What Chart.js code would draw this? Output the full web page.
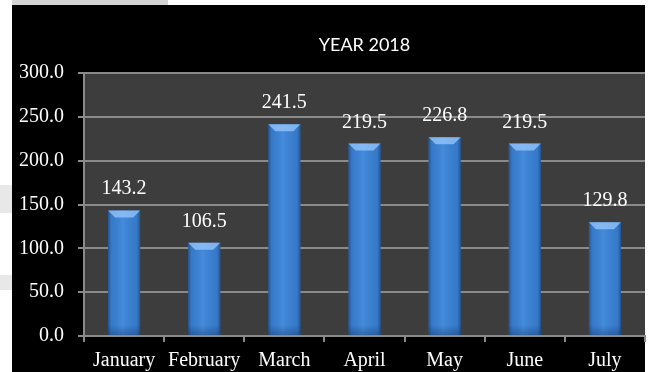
<!DOCTYPE html>
<html>
<head>
<meta charset="utf-8">
<script src="https://cdn.jsdelivr.net/npm/chart.js@4/dist/chart.umd.min.js"></script>
<style>
  html, body { margin: 0; padding: 0; background: #fff; overflow: hidden; }
  #wrap { position: relative; width: 649px; height: 372px; overflow: hidden; }
</style>
</head>
<body>
<div id="wrap"><canvas id="salesChart" width="649" height="372"></canvas></div>
<script>
const months = ['January', 'February', 'March', 'April', 'May', 'June', 'July'];
const values = [143.2, 106.5, 241.5, 219.5, 226.8, 219.5, 129.8];
const chartTitle = 'YEAR 2018';
const yMin = 0;
const yMax = 300;
const yStep = 50;

const gridGray = '#8a8a8a';
const serif = '"Liberation Serif", "Times New Roman", serif';

// page frame, black panel and plot background
const backdrop = {
    id: 'backdrop',
    beforeDraw(chart) {
        const ctx = chart.ctx;
        const area = chart.chartArea;
        ctx.save();
        ctx.fillStyle = '#ffffff';
        ctx.fillRect(0, 0, chart.width, chart.height);
        ctx.fillStyle = '#e8e8e8';
        ctx.fillRect(0, 185, 12, 28);
        ctx.fillRect(0, 275, 12, 15);
        ctx.fillStyle = '#d4d4d4';
        ctx.fillRect(12, 0, 156, 5);
        ctx.fillStyle = '#000000';
        ctx.fillRect(12, 5, area.right - 12, chart.height - 5);
        ctx.fillStyle = '#3d3d3d';
        ctx.fillRect(area.left, area.top, area.right - area.left, area.bottom - area.top);

        // title sits centred over the plot, not the whole canvas
        ctx.fillStyle = '#ffffff';
        ctx.font = '18px Lato, "Open Sans", sans-serif';
        ctx.textAlign = 'center';
        ctx.textBaseline = 'middle';
        ctx.fillText(chartTitle, (area.left + area.right) / 2, 45);
        ctx.restore();
    }
};

// cylinder-like shading, bevelled top and value labels
const barDecor = {
    id: 'barDecor',
    afterDatasetsDraw(chart) {
        const ctx = chart.ctx;
        const meta = chart.getDatasetMeta(0);
        ctx.save();
        meta.data.forEach((bar, i) => {
            const { x, y, base, width } = bar.getProps(['x', 'y', 'base', 'width'], true);
            const left = x - width / 2;
            const right = x + width / 2;

            const shade = ctx.createLinearGradient(left, 0, right, 0);
            shade.addColorStop(0, 'rgba(15, 40, 80, 0.5)');
            shade.addColorStop(0.1, 'rgba(15, 40, 80, 0.1)');
            shade.addColorStop(0.45, 'rgba(130, 190, 255, 0.15)');
            shade.addColorStop(0.9, 'rgba(15, 40, 80, 0.1)');
            shade.addColorStop(1, 'rgba(15, 40, 80, 0.5)');
            ctx.fillStyle = shade;
            ctx.fillRect(left, y, width, base - y);

            const foot = ctx.createLinearGradient(0, base - 10, 0, base);
            foot.addColorStop(0, 'rgba(10, 30, 60, 0)');
            foot.addColorStop(1, 'rgba(10, 30, 60, 0.3)');
            ctx.fillStyle = foot;
            ctx.fillRect(left, base - 10, width, 10);

            const bevel = 7;
            ctx.beginPath();
            ctx.moveTo(left, y);
            ctx.lineTo(right, y);
            ctx.lineTo(right - bevel, y + bevel);
            ctx.lineTo(left + bevel, y + bevel);
            ctx.closePath();
            ctx.fillStyle = 'rgba(160, 205, 255, 0.7)';
            ctx.fill();

            ctx.fillStyle = '#ffffff';
            ctx.font = '20px ' + serif;
            ctx.textAlign = 'center';
            ctx.textBaseline = 'alphabetic';
            ctx.fillText(values[i].toFixed(1), x, y - 16);
        });
        ctx.restore();
    }
};

const ctx = document.getElementById('salesChart').getContext('2d');
const chart = new Chart(ctx, {
    type: 'bar',
    data: {
        labels: months,
        datasets: [
            {
                label: chartTitle,
                data: values,
                backgroundColor: '#3a82d6',
                borderWidth: 0,
                categoryPercentage: 0.4,
                barPercentage: 1.0,
            },
        ],
    },
    options: {
        responsive: false,
        animation: false,
        layout: {
            padding: { left: 5, right: 4, top: 73, bottom: -8 },
        },
        plugins: {
            legend: { display: false },
            tooltip: { enabled: false },
            title: { display: false },
        },
        scales: {
            x: {
                grid: {
                    offset: true,
                    drawOnChartArea: false,
                    color: gridGray,
                    lineWidth: 2,
                    tickLength: 6,
                },
                border: { color: gridGray, width: 2 },
                ticks: {
                    color: '#ffffff',
                    font: { family: serif, size: 20, lineHeight: 1.0 },
                    padding: 9,
                    maxRotation: 0,
                },
            },
            y: {
                min: yMin,
                max: yMax,
                grid: {
                    color: gridGray,
                    lineWidth: 2,
                    tickLength: 6,
                },
                border: { color: gridGray, width: 2 },
                ticks: {
                    stepSize: yStep,
                    color: '#ffffff',
                    font: { family: serif, size: 20 },
                    padding: 14,
                    callback: v => v.toFixed(1),
                },
            },
        },
    },
    plugins: [backdrop, barDecor],
});
</script>
</body>
</html>
